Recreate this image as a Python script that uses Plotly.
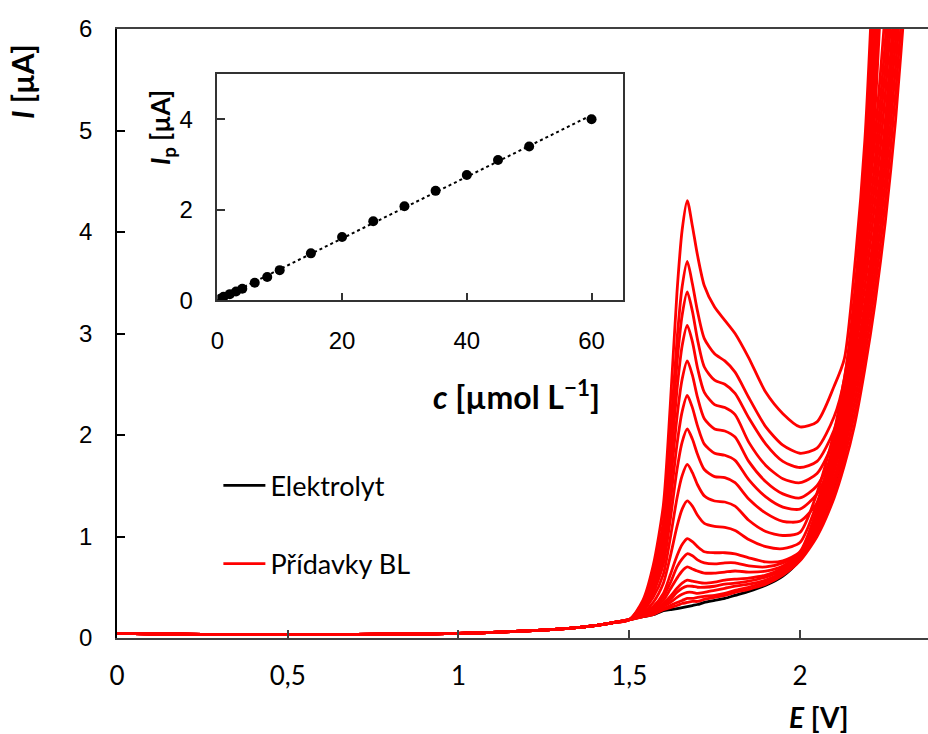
import numpy as np
import plotly.graph_objects as go

# ---- voltammograms: common segment before the oxidation wave ----
E_base = [0.00, 0.10, 0.25, 0.40, 0.55, 0.70, 0.85, 1.00, 1.10, 1.20, 1.30, 1.38, 1.45]
I_base = [0.045, 0.04, 0.035, 0.035, 0.035, 0.035, 0.04, 0.045, 0.055, 0.07, 0.09, 0.115, 0.15]

# ---- potential grid of the wave region ----
E_wave = [1.50, 1.54, 1.57, 1.60, 1.62, 1.64, 1.655, 1.67, 1.685, 1.70, 1.72, 1.75, 1.78, 1.81,
          1.85, 1.90, 1.95, 2.00, 2.05, 2.10, 2.13, 2.16, 2.19, 2.22, 2.25, 2.28, 2.31, 2.34]

# supporting electrolyte (blank)
I_blank = [0.18, 0.21, 0.23, 0.27, 0.28, 0.29, 0.30, 0.31, 0.32, 0.33, 0.35, 0.37, 0.39, 0.42,
           0.46, 0.52, 0.61, 0.77, 1.03, 1.44, 1.90, 2.70, 4.60, 6.80]

# successive additions of BL (µmol/L) and the recorded currents
conc = [0.5, 1, 2, 3, 4, 6, 8, 10, 15, 20, 25, 30, 35, 40, 45, 50, 60]
I_add = [
    [0.18, 0.21, 0.23, 0.28, 0.30, 0.32, 0.34, 0.35, 0.36, 0.36, 0.38, 0.40, 0.42, 0.45,
     0.48, 0.53, 0.62, 0.76, 1.00, 1.38, 1.70, 2.10, 2.65, 3.30, 4.10, 5.10, 6.40, 7.80],
    [0.18, 0.21, 0.24, 0.29, 0.32, 0.35, 0.37, 0.39, 0.39, 0.40, 0.41, 0.42, 0.44, 0.47,
     0.50, 0.55, 0.63, 0.77, 1.03, 1.44, 1.78, 2.21, 2.78, 3.46, 4.30, 5.36, 6.68, 8.10],
    [0.18, 0.22, 0.25, 0.31, 0.35, 0.40, 0.43, 0.45, 0.45, 0.44, 0.45, 0.47, 0.49, 0.51,
     0.53, 0.57, 0.65, 0.78, 1.07, 1.51, 1.86, 2.32, 2.91, 3.62, 4.50, 5.62, 6.96],
    [0.18, 0.22, 0.25, 0.32, 0.38, 0.45, 0.49, 0.51, 0.51, 0.50, 0.50, 0.51, 0.53, 0.54,
     0.56, 0.60, 0.67, 0.79, 1.11, 1.57, 1.94, 2.43, 3.04, 3.78, 4.70, 5.88, 7.24],
    [0.18, 0.22, 0.26, 0.34, 0.41, 0.49, 0.54, 0.57, 0.56, 0.55, 0.54, 0.55, 0.57, 0.58,
     0.59, 0.62, 0.69, 0.81, 1.15, 1.64, 2.02, 2.54, 3.17, 3.94, 4.90, 6.14],
    [0.18, 0.23, 0.28, 0.37, 0.48, 0.59, 0.66, 0.70, 0.68, 0.66, 0.64, 0.64, 0.65, 0.66,
     0.65, 0.66, 0.71, 0.83, 1.19, 1.70, 2.10, 2.65, 3.30, 4.10, 5.10, 6.40],
    [0.18, 0.23, 0.29, 0.41, 0.54, 0.70, 0.78, 0.83, 0.81, 0.77, 0.74, 0.73, 0.74, 0.74,
     0.71, 0.70, 0.74, 0.84, 1.23, 1.78, 2.21, 2.78, 3.46, 4.30, 5.36, 6.68],
    [0.18, 0.24, 0.31, 0.44, 0.62, 0.81, 0.92, 0.98, 0.95, 0.90, 0.85, 0.84, 0.84, 0.83,
     0.79, 0.75, 0.76, 0.85, 1.27, 1.86, 2.32, 2.91, 3.62, 4.50, 5.62, 6.96],
    [0.18, 0.25, 0.35, 0.54, 0.80, 1.10, 1.27, 1.35, 1.30, 1.21, 1.13, 1.10, 1.09, 1.06,
     0.97, 0.90, 0.88, 0.94, 1.33, 1.94, 2.43, 3.04, 3.78, 4.70, 5.88, 7.24],
    [0.18, 0.27, 0.40, 0.63, 0.98, 1.38, 1.60, 1.71, 1.63, 1.51, 1.40, 1.35, 1.34, 1.30,
     1.16, 1.05, 1.01, 1.04, 1.43, 2.03, 2.56, 3.19, 3.97, 4.93, 6.18, 7.60],
    [0.18, 0.28, 0.44, 0.73, 1.16, 1.66, 1.93, 2.06, 1.96, 1.81, 1.66, 1.59, 1.58, 1.53,
     1.37, 1.23, 1.15, 1.15, 1.33, 1.75, 2.10, 2.75, 3.80, 5.20, 7.20],
    [0.18, 0.29, 0.48, 0.81, 1.32, 1.91, 2.23, 2.39, 2.27, 2.09, 1.91, 1.82, 1.80, 1.75,
     1.56, 1.39, 1.29, 1.27, 1.42, 1.80, 2.17, 2.85, 3.95, 5.45, 7.50],
    [0.18, 0.31, 0.52, 0.90, 1.49, 2.18, 2.55, 2.73, 2.59, 2.37, 2.16, 2.06, 2.04, 1.98,
     1.74, 1.54, 1.42, 1.38, 1.50, 1.85, 2.25, 2.95, 4.10, 5.70, 7.80],
    [0.18, 0.32, 0.56, 0.99, 1.67, 2.45, 2.88, 3.08, 2.92, 2.66, 2.42, 2.30, 2.27, 2.20,
     1.93, 1.70, 1.57, 1.53, 1.62, 1.95, 2.35, 3.10, 4.30, 6.00, 8.00],
    [0.18, 0.33, 0.60, 1.08, 1.83, 2.71, 3.18, 3.41, 3.22, 2.94, 2.67, 2.54, 2.50, 2.41,
     2.17, 1.91, 1.74, 1.68, 1.74, 2.05, 2.45, 3.25, 4.50, 6.40],
    [0.18, 0.35, 0.64, 1.15, 1.98, 2.94, 3.46, 3.71, 3.49, 3.22, 2.95, 2.80, 2.73, 2.62,
     2.37, 2.08, 1.90, 1.82, 1.87, 2.18, 2.55, 3.40, 4.70, 6.70],
    [0.18, 0.37, 0.71, 1.31, 2.28, 3.41, 4.02, 4.31, 4.06, 3.77, 3.47, 3.26, 3.13, 3.00,
     2.76, 2.42, 2.21, 2.08, 2.13, 2.48, 2.75, 3.65, 4.90, 7.00],
]

# peak currents for the calibration inset
Ip = [0.04, 0.08, 0.14, 0.20, 0.26, 0.39, 0.52, 0.67, 1.04, 1.40, 1.75, 2.08, 2.42, 2.77, 3.10, 3.40, 4.00]

x_ticks = [0, 0.5, 1, 1.5, 2]
x_ticktext = ["0", "0,5", "1", "1,5", "2"]
y_ticks = [0, 1, 2, 3, 4, 5, 6]
inset_xticks = [0, 20, 40, 60]
inset_yticks = [0, 2, 4]

RED = "#ff0000"
TXT = "Lato"

fig = go.Figure()

# blank drawn first so the additions lie over it
fig.add_trace(go.Scatter(
    x=E_base + E_wave[:len(I_blank)], y=I_base + I_blank,
    mode="lines", line=dict(color="black", width=2.8, shape="spline", smoothing=0.7),
    name="Elektrolyt", legendgroup="blank", showlegend=True,
    xaxis="x", yaxis="y"))

for k, cur in enumerate(I_add):
    fig.add_trace(go.Scatter(
        x=E_base + E_wave[:len(cur)], y=I_base + cur,
        mode="lines", line=dict(color=RED, width=2.8, shape="spline", smoothing=0.7),
        name="Přídavky BL", legendgroup="add", showlegend=(k == 0),
        xaxis="x", yaxis="y"))

# calibration inset: linear fit and points
slope, icpt = np.polyfit(conc, Ip, 1)
c_fit = np.array([0.0, max(conc)])
fig.add_trace(go.Scatter(
    x=c_fit, y=slope * c_fit + icpt, mode="lines",
    line=dict(color="black", width=2, dash="dot"),
    showlegend=False, xaxis="x2", yaxis="y2"))
fig.add_trace(go.Scatter(
    x=conc, y=Ip, mode="markers",
    marker=dict(color="black", size=10),
    showlegend=False, xaxis="x2", yaxis="y2"))

fig.update_layout(
    width=928, height=734,
    margin=dict(l=117, r=0, t=29, b=96),
    paper_bgcolor="white", plot_bgcolor="white",
    xaxis=dict(range=[0, 2.375], tickvals=x_ticks, ticktext=x_ticktext,
               ticks="inside", ticklen=8, tickwidth=1.5, tickcolor="#404040",
               showline=True, linecolor="#404040", linewidth=1.5, mirror=True,
               showgrid=False, zeroline=False, ticklabelstandoff=14,
               tickfont=dict(family=TXT, size=26, color="black")),
    yaxis=dict(range=[0, 6], tickvals=y_ticks,
               ticks="inside", ticklen=8, tickwidth=1.5, tickcolor="black",
               showline=True, linecolor="black", linewidth=1.5,
               showgrid=False, zeroline=False, ticklabelstandoff=18,
               tickfont=dict(family="Liberation Sans", size=24, color="black")),
    xaxis2=dict(domain=[0.1237, 0.6236], anchor="y2", range=[0, 65],
                tickvals=inset_xticks, ticks="inside", ticklen=8, tickwidth=1.5,
                tickcolor="#333333", showline=True, linecolor="#333333", linewidth=1.5,
                mirror=True, showgrid=False, zeroline=False, ticklabelstandoff=18,
                tickfont=dict(family="Liberation Sans", size=24, color="black")),
    yaxis2=dict(domain=[0.5542, 0.9262], anchor="x2", range=[0, 5],
                tickvals=inset_yticks, ticks="inside", ticklen=8, tickwidth=1.5,
                tickcolor="#333333", showline=True, linecolor="#333333", linewidth=1.5,
                mirror=True, showgrid=False, zeroline=False, ticklabelstandoff=18,
                tickfont=dict(family="Liberation Sans", size=24, color="black")),
    legend=dict(x=0.125, y=0.29, xanchor="left", yanchor="top",
                bgcolor="rgba(0,0,0,0)", font=dict(family=TXT, size=27, color="black"),
                traceorder="grouped", tracegroupgap=40, itemwidth=42),
    showlegend=True,
)

annots = [
    dict(text="<b><i>I</i> [µA]</b>", x=-0.117, y=0.913, textangle=-90,
         font=dict(family=TXT, size=30, color="black")),
    dict(text="<b><i>E</i> [V]</b>", x=0.8656, y=-0.1304,
         font=dict(family=TXT, size=28, color="black")),
    dict(text="<b><i>c</i> [µmol L<sup>−1</sup>]</b>", x=0.492, y=0.3995,
         font=dict(family=TXT, size=32, color="black")),
    dict(text="<b><i>I</i><sub>p</sub> [µA]</b>", x=0.0555, y=0.8376, textangle=-90,
         font=dict(family=TXT, size=26, color="black")),
]
for a in annots:
    fig.add_annotation(xref="paper", yref="paper", showarrow=False,
                       xanchor="center", yanchor="middle", **a)

fig.write_html("out.html")
